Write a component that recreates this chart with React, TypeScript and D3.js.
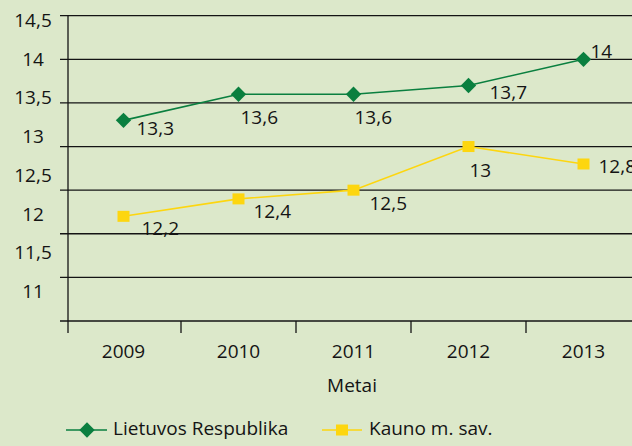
import { useEffect } from 'react';
import * as d3 from 'd3';

const WIDTH = 632;
const HEIGHT = 446;
const FONT = '"Open Sans", "Noto Sans", sans-serif';
const FS = 19;

const years = ['2009', '2010', '2011', '2012', '2013'];
const lietuva = [13.3, 13.6, 13.6, 13.7, 14];
const kaunas = [12.2, 12.4, 12.5, 13, 12.8];
const yTicks = [11, 11.5, 12, 12.5, 13, 13.5, 14, 14.5];

// label offsets (dx = start of text, dy = vertical centre) relative to point
const lietuvaLabelOff = [[13, 8], [2, 23], [1, 23], [21, 7], [7, -8]];
const kaunasLabelOff = [[18, 12], [15, 12], [16, 13], [1, 23], [15, 2]];

const GREEN = '#0a7f3f';
const YELLOW = '#fdd60f';
const BG = '#dce8ca';
const INK = '#141414';

const fmt = (v: number) => String(v).replace('.', ',');

export default function App() {
    useEffect(() => {
        document.body.style.margin = '0';
    }, []);

    const x = d3.scaleBand().domain(years).range([66, 641]);
    const y = d3.scaleLinear().domain([11, 14.5]).range([321, 15.7]);
    // tick labels in the original drift away from gridlines
    const yLab = d3.scaleLinear().domain([11, 14.5]).range([291, 20]);
    const cx = (i: number) => x(years[i])! + x.bandwidth() / 2;
    const line = d3
        .line<number>()
        .x((_, i) => cx(i))
        .y((d) => y(d));

    const diamond = d3.symbol(d3.symbolDiamond2, 150)();

    return (
        <svg width={WIDTH} height={HEIGHT} style={{ display: 'block', fontFamily: FONT }}>
            <rect width={WIDTH} height={HEIGHT} fill={BG} />
            {yTicks.map((t) => (
                <g key={t}>
                    <line x1={60} x2={WIDTH} y1={y(t)} y2={y(t)} stroke={INK} strokeWidth={1.3} />
                    <text x={33} y={yLab(t)} textAnchor="middle" dominantBaseline="central" fontSize={FS} fill={INK}>
                        {fmt(t)}
                    </text>
                </g>
            ))}
            <line x1={68} x2={68} y1={15.7} y2={333} stroke={INK} strokeWidth={1.3} />
            {years.slice(1).map((yr) => (
                <line key={yr} x1={x(yr)!} x2={x(yr)!} y1={321} y2={333} stroke={INK} strokeWidth={1.3} />
            ))}
            {years.map((yr, i) => (
                <text key={yr} x={cx(i)} y={351} textAnchor="middle" dominantBaseline="central" fontSize={FS} fill={INK}>
                    {yr}
                </text>
            ))}
            <text x={352} y={385} textAnchor="middle" dominantBaseline="central" fontSize={FS} fill={INK}>
                Metai
            </text>

            <path d={line(kaunas)!} fill="none" stroke={YELLOW} strokeWidth={1.6} />
            {kaunas.map((v, i) => (
                <g key={i}>
                    <rect x={cx(i) - 6} y={y(v) - 5.5} width={12} height={11} fill={YELLOW} />
                    <text x={cx(i) + kaunasLabelOff[i][0]} y={y(v) + kaunasLabelOff[i][1]} dominantBaseline="central" fontSize={FS} fill={INK}>
                        {fmt(v)}
                    </text>
                </g>
            ))}

            <path d={line(lietuva)!} fill="none" stroke={GREEN} strokeWidth={1.6} />
            {lietuva.map((v, i) => (
                <g key={i}>
                    <path d={diamond!} transform={`translate(${cx(i)},${y(v)})`} fill={GREEN} />
                    <text x={cx(i) + lietuvaLabelOff[i][0]} y={y(v) + lietuvaLabelOff[i][1]} dominantBaseline="central" fontSize={FS} fill={INK}>
                        {fmt(v)}
                    </text>
                </g>
            ))}

            <g transform="translate(0,430)">
                <line x1={66} x2={107} y1={0} y2={0} stroke={GREEN} strokeWidth={1.6} />
                <path d={diamond!} transform="translate(87,0)" fill={GREEN} />
                <text x={113} y={-2} dominantBaseline="central" fontSize={FS} fill={INK}>
                    Lietuvos Respublika
                </text>
                <line x1={322} x2={362} y1={0} y2={0} stroke={YELLOW} strokeWidth={1.6} />
                <rect x={336} y={-5.5} width={12} height={11} fill={YELLOW} />
                <text x={369} y={-2} dominantBaseline="central" fontSize={FS} fill={INK}>
                    Kauno m. sav.
                </text>
            </g>
        </svg>
    );
}
